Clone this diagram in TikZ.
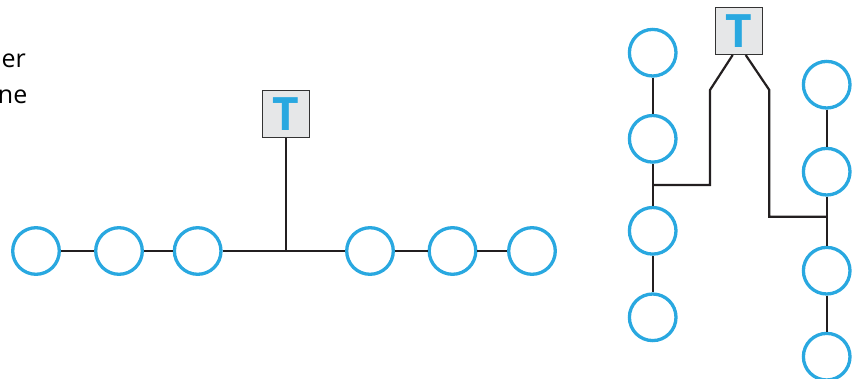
\documentclass[tikz,border=0pt]{standalone}
\usepackage{fontspec}
\setmainfont{Open Sans}
\definecolor{nodeblue}{RGB}{41,168,224}
\definecolor{boxgray}{RGB}{230,231,232}
\definecolor{wire}{RGB}{35,31,32}
\begin{document}
\begin{tikzpicture}[x=1pt,y=-1pt,
  station/.style={circle,draw=nodeblue,line width=3.3pt,minimum size=46.6pt,inner sep=0pt},
  term/.style={rectangle,draw=black!80,fill=boxgray,line width=1.3pt,minimum width=47pt,minimum height=47pt,inner sep=0pt,
    font=\fontsize{46}{46}\selectfont\bfseries,text=nodeblue},
  cable/.style={draw=wire,line width=2.2pt},
  label/.style={font=\fontsize{25}{25}\selectfont,text=black,anchor=base east,inner sep=0pt}]
\useasboundingbox (0,0) rectangle (852,378);

% partial caption at the left edge
\node[label] (l1) at (26,67) {er};
\node[label] (l2) at (27.5,103) {ne};

% bus topology: one trunk line, terminal tapped in the middle
\node[station] (a1) at (36,251) {};
\node[station] (a2) at (119,251) {};
\node[station] (a3) at (197.7,251) {};
\node[station] (a4) at (370,251) {};
\node[station] (a5) at (452.5,251) {};
\node[station] (a6) at (532,251) {};
\node[term] (t1) at (286,113.7) {T};
\coordinate (tap) at (t1.south |- a3);
\draw[cable] (a1) -- (a2);
\draw[cable] (a2) -- (a3);
\draw[cable] (a3) -- (a4);
\draw[cable] (a4) -- (a5);
\draw[cable] (a5) -- (a6);
\draw[cable] (t1.south) -- (tap);

% two branches fed from one terminal
\node[term] (t2) at (739.2,31.2) {T};
\node[station] (b1) at (652.7,52.7) {};
\node[station] (b2) at (652.7,138.8) {};
\node[station] (b3) at (652.7,230.8) {};
\node[station] (b4) at (652.7,317.3) {};
\node[station] (c1) at (826.7,84.7) {};
\node[station] (c2) at (826.7,171.7) {};
\node[station] (c3) at (826.7,270.7) {};
\node[station] (c4) at (826.7,356.7) {};
\draw[cable] (b1) -- (b2);
\draw[cable] (b2) -- (b3);
\draw[cable] (b3) -- (b4);
\draw[cable] (c1) -- (c2);
\draw[cable] (c2) -- (c3);
\draw[cable] (c3) -- (c4);

\coordinate (lo) at (732.7,55);
\coordinate (lk) at (710,90);
\coordinate (lj) at (652.7,185);
\coordinate (ro) at (745.7,55);
\coordinate (rk) at (769.3,90);
\coordinate (rj) at (826.7,216.7);
\draw[cable,line join=miter] (lo) -- (lk) |- (lj);
\draw[cable,line join=miter] (ro) -- (rk) |- (rj);
\end{tikzpicture}
\end{document}
